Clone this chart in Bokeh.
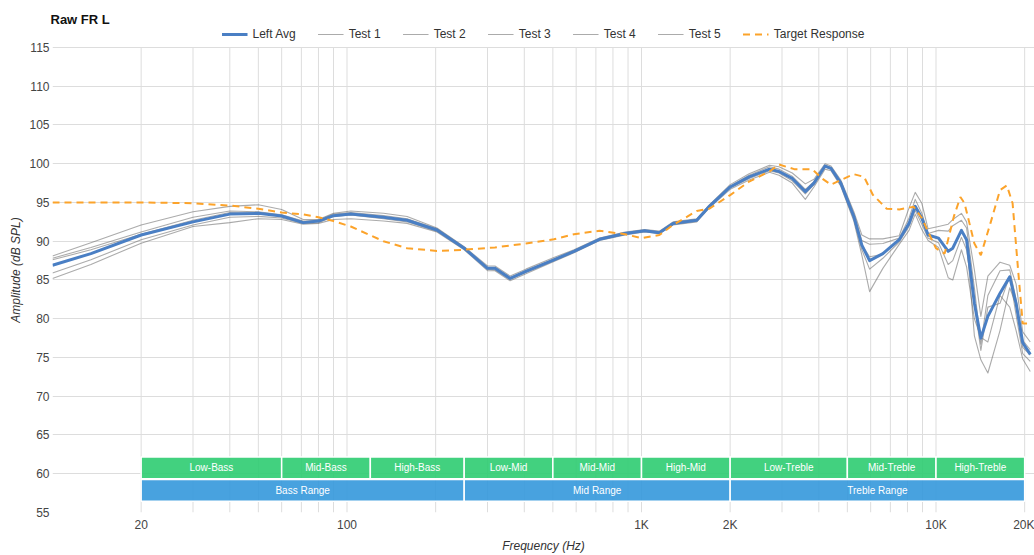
from bokeh.plotting import figure
from bokeh.models import ColumnDataSource, FixedTicker, Legend, LegendItem, Range1d
from bokeh.core.properties import value
from bokeh.embed import file_html
from bokeh.resources import INLINE
import math

# ---------------- data ----------------
freq = [10, 13.5, 20, 30, 40, 50, 60, 71, 80, 90, 103, 133, 160, 202, 250, 300, 318, 358, 405, 504,
        590, 720, 880, 1025, 1150, 1280, 1540, 1700, 2000, 2320, 2720, 2930, 3250, 3600, 3850, 4200,
        4400, 4750, 5260, 5600, 5950, 6600, 7500, 8100, 8500, 8950, 9400, 10200, 11000, 11400, 12200,
        12700, 13500, 14200, 15000, 16500, 17800, 18700, 19700, 20900]

left_avg = [86.9, 88.4, 90.8, 92.5, 93.5, 93.6, 93.25, 92.4, 92.6, 93.3, 93.5, 93.1, 92.7, 91.45, 89.1,
            86.5, 86.5, 85.2, 86.1, 87.6, 88.7, 90.25, 91.0, 91.35, 91.1, 92.3, 92.7, 94.5, 97.0, 98.3,
            99.3, 99.0, 98.1, 96.4, 97.5, 99.7, 99.4, 97.5, 93.2, 89.5, 87.5, 88.4, 90.2, 92.3, 94.5,
            93.0, 90.8, 90.4, 88.7, 89.1, 91.4, 90.2, 82.0, 77.5, 80.3, 83.3, 85.4, 82.0, 76.9, 75.4]

test1 = [88.1, 89.8, 92.1, 93.8, 94.5, 94.7, 94.1, 92.8, 92.8, 93.6, 93.9, 93.6, 93.2, 91.7, 89.3,
         86.8, 86.8, 85.5, 86.4, 87.9, 88.9, 90.4, 91.2, 91.5, 91.3, 92.5, 92.9, 94.7, 97.3, 98.7,
         99.8, 99.6, 98.8, 97.4, 98.0, 100.0, 99.7, 97.9, 93.8, 90.8, 90.3, 90.3, 90.7, 94.3, 96.3,
         94.9, 91.6, 91.9, 92.2, 92.8, 93.6, 92.5, 86.3, 80.3, 85.5, 87.3, 86.9, 84.5, 78.3, 77.0]

test2 = [87.8, 89.2, 91.2, 93.1, 93.9, 93.8, 93.4, 92.6, 92.7, 93.5, 93.7, 93.3, 92.9, 91.6, 89.2,
         86.6, 86.6, 85.3, 86.2, 87.7, 88.8, 90.3, 91.1, 91.4, 91.2, 92.4, 92.8, 94.6, 97.1, 98.5,
         99.6, 99.3, 98.4, 96.7, 97.7, 99.8, 99.5, 97.7, 93.5, 90.1, 89.6, 89.7, 90.4, 93.0, 95.4,
         93.6, 91.0, 91.4, 91.3, 92.0, 92.7, 91.7, 84.0, 76.7, 83.0, 86.2, 86.3, 82.5, 77.2, 76.0]

test3 = [87.6, 88.9, 90.9, 92.7, 93.7, 93.6, 93.2, 92.5, 92.6, 93.3, 93.6, 93.1, 92.7, 91.45, 89.1,
         86.5, 86.5, 85.2, 86.1, 87.6, 88.7, 90.25, 91.0, 91.35, 91.1, 92.3, 92.7, 94.5, 97.0, 98.3,
         99.3, 99.0, 98.1, 96.4, 97.5, 99.7, 99.4, 97.5, 93.2, 89.5, 88.0, 88.3, 90.2, 92.4, 94.5,
         92.8, 90.8, 90.3, 88.7, 89.0, 91.5, 90.2, 77.8, 74.7, 73.0, 78.5, 84.0, 81.8, 76.3, 75.3]

test4 = [85.9, 87.6, 90.2, 92.1, 93.1, 93.2, 93.0, 92.3, 92.4, 93.2, 93.4, 92.9, 92.5, 91.3, 89.0,
         86.4, 86.3, 85.1, 86.0, 87.5, 88.6, 90.2, 90.9, 91.3, 91.0, 92.2, 92.6, 94.4, 96.9, 98.1,
         99.1, 98.8, 97.8, 96.1, 97.3, 99.6, 99.3, 97.3, 92.9, 88.9, 86.4, 87.8, 89.9, 91.9, 94.0,
         92.2, 90.4, 89.8, 87.0, 87.5, 90.5, 88.9, 82.0, 75.9, 81.5, 82.0, 85.5, 80.5, 75.5, 74.5]

test5 = [85.2, 87.0, 89.75, 91.9, 92.4, 92.9, 92.8, 92.2, 92.3, 92.8, 92.9, 92.6, 92.3, 91.2, 88.9,
         86.2, 86.2, 84.9, 85.8, 87.4, 88.5, 90.1, 90.8, 91.2, 91.0, 92.1, 92.5, 94.3, 96.7, 97.9,
         98.9, 98.5, 97.5, 95.4, 97.0, 99.3, 99.1, 97.1, 92.6, 88.2, 83.5, 86.5, 89.6, 91.4, 93.5,
         91.5, 90.1, 89.2, 85.3, 85.0, 88.9, 86.7, 80.0, 77.6, 77.0, 83.0, 81.5, 78.5, 74.8, 73.2]

target_freq = [10, 20, 30, 40, 50, 60, 71, 80, 90, 103, 133, 160, 202, 250, 318, 405, 504, 590, 720,
               880, 1000, 1150, 1280, 1540, 1700, 2000, 2320, 2720, 2930, 3300, 3800, 4100, 4400,
               4750, 5260, 5700, 6100, 6800, 7500, 8400, 8950, 9400, 10000, 10700, 11500, 12100,
               12500, 13500, 14200, 15300, 16500, 17400, 18200, 19000, 19700, 20900]
target = [95.0, 95.0, 94.9, 94.6, 94.2, 93.7, 93.45, 93.1, 92.6, 91.9, 90.0, 89.1, 88.75, 88.9,
          89.2, 89.7, 90.25, 90.9, 91.35, 90.9, 90.4, 90.8, 92.1, 93.9, 94.2, 95.95, 97.7, 99.0,
          99.9, 99.3, 99.3, 98.1, 97.3, 97.9, 98.65, 98.3, 96.0, 94.2, 94.1, 94.45, 93.0, 91.2,
          89.1, 88.4, 93.2, 95.7, 94.9, 89.7, 88.2, 92.3, 96.6, 97.2, 94.9, 86.3, 79.4, 79.4]

sub_names = ["Low-Bass", "Mid-Bass", "High-Bass", "Low-Mid", "Mid-Mid", "High-Mid",
             "Low-Treble", "Mid-Treble", "High-Treble"]
sub_lo = [20, 60, 120, 250, 500, 1000, 2000, 5000, 10000]
sub_hi = [60, 120, 250, 500, 1000, 2000, 5000, 10000, 20000]

range_names = ["Bass Range", "Mid Range", "Treble Range"]
range_lo = [20, 250, 2000]
range_hi = [250, 2000, 20000]

x_tick_vals = [20, 100, 1000, 2000, 10000, 20000]
x_tick_text = ["20", "100", "1K", "2K", "10K", "20K"]
y_tick_vals = [55, 60, 65, 70, 75, 80, 85, 90, 95, 100, 105, 110, 115]
grid_freqs = [20, 30, 40, 50, 60, 70, 80, 90, 100, 200, 300, 400, 500, 600, 700, 800, 900,
              1000, 2000, 3000, 4000, 5000, 6000, 7000, 8000, 9000, 10000, 20000]
y_min, y_max = 55, 115

# ---------------- figure ----------------
FONT = "Liberation Sans"

p = figure(width=1034, height=555, x_axis_type="log",
           x_range=Range1d(10, 21600), y_range=Range1d(y_min, 117.575),
           output_backend="svg", toolbar_location=None,
           min_border_left=52, min_border_right=0, min_border_top=27, min_border_bottom=42)

p.title.text = "Raw FR L"
p.title.text_font = FONT
p.title.text_font_size = "13px"
p.title.text_font_style = "bold"
p.title.text_color = "#111111"
p.title.align = "left"
p.title.offset = -2
p.title.standoff = 2

p.outline_line_color = None
p.background_fill_color = "white"

# grids: horizontal via grid, vertical as segments spanning the value range
p.xgrid.visible = False
p.ygrid.ticker = FixedTicker(ticks=y_tick_vals)
p.ygrid.grid_line_color = "#dddddd"
p.ygrid.grid_line_width = 1
p.segment(x0=grid_freqs, x1=grid_freqs, y0=[y_min] * len(grid_freqs), y1=[y_max] * len(grid_freqs),
          line_color="#dddddd", line_width=1)

# axes
p.xaxis.ticker = FixedTicker(ticks=x_tick_vals)
p.xaxis.major_label_overrides = {v: t for v, t in zip(x_tick_vals, x_tick_text)}
p.yaxis.ticker = FixedTicker(ticks=y_tick_vals)
for ax in (p.xaxis, p.yaxis):
    ax.axis_line_color = None
    ax.major_tick_line_color = None
    ax.minor_tick_line_color = None
    ax.major_tick_out = 0
    ax.major_tick_in = 0
    ax.minor_tick_out = 0
    ax.minor_tick_in = 0
    ax.major_label_text_font = FONT
    ax.major_label_text_font_size = "12px"
    ax.major_label_text_color = "#444444"
    ax.axis_label_text_font = FONT
    ax.axis_label_text_font_size = "12px"
    ax.axis_label_text_font_style = "italic"
    ax.axis_label_text_color = "#333333"
p.xaxis.axis_label = "Frequency (Hz)"
p.yaxis.axis_label = "Amplitude (dB SPL)"
p.xaxis.major_label_standoff = 5
p.xaxis.axis_label_standoff = 4
p.yaxis.major_label_standoff = 3
p.yaxis.axis_label_standoff = 3

# range bands
sub_src = ColumnDataSource(dict(
    left=sub_lo, right=sub_hi, name=sub_names,
    xm=[math.sqrt(a * b) for a, b in zip(sub_lo, sub_hi)]))
rng_src = ColumnDataSource(dict(
    left=range_lo, right=range_hi, name=range_names,
    xm=[math.sqrt(a * b) for a, b in zip(range_lo, range_hi)]))

p.quad(left="left", right="right", bottom=59.35, top=62.15, source=sub_src,
       fill_color="#2ecc71", fill_alpha=0.9, line_color="white", line_width=1.5)
p.quad(left="left", right="right", bottom=56.45, top=59.25, source=rng_src,
       fill_color="#3498db", fill_alpha=0.9, line_color="white", line_width=1.5)
p.text(x="xm", y=60.75, text="name", source=sub_src, text_color="white",
       text_font=value(FONT), text_font_size="10px", text_align="center", text_baseline="middle")
p.text(x="xm", y=57.85, text="name", source=rng_src, text_color="white",
       text_font=value(FONT), text_font_size="10px", text_align="center", text_baseline="middle")

# curves
gray = "#666666"
r_tests = []
for t in (test1, test2, test3, test4, test5):
    r_tests.append(p.line(freq, t, line_color=gray, line_alpha=0.55, line_width=1.1, line_join="round"))
r_avg = p.line(freq, left_avg, line_color="#4a7fc4", line_width=3, line_join="round")
r_target = p.line(target_freq, target, line_color="#fca32a", line_width=2, line_dash="7 5")

legend = Legend(items=[
    LegendItem(label="Left Avg", renderers=[r_avg]),
    LegendItem(label="Test 1", renderers=[r_tests[0]]),
    LegendItem(label="Test 2", renderers=[r_tests[1]]),
    LegendItem(label="Test 3", renderers=[r_tests[2]]),
    LegendItem(label="Test 4", renderers=[r_tests[3]]),
    LegendItem(label="Test 5", renderers=[r_tests[4]]),
    LegendItem(label="Target Response", renderers=[r_target]),
], orientation="horizontal", location="top_center",
    border_line_color=None, background_fill_alpha=0,
    label_text_font=FONT, label_text_font_size="12px", label_text_color="#333333",
    glyph_width=26, glyph_height=14, label_height=14, label_standoff=5, spacing=22,
    padding=2, margin=0)
p.add_layout(legend, "center")

open("out.html", "w").write(file_html(p, INLINE))
